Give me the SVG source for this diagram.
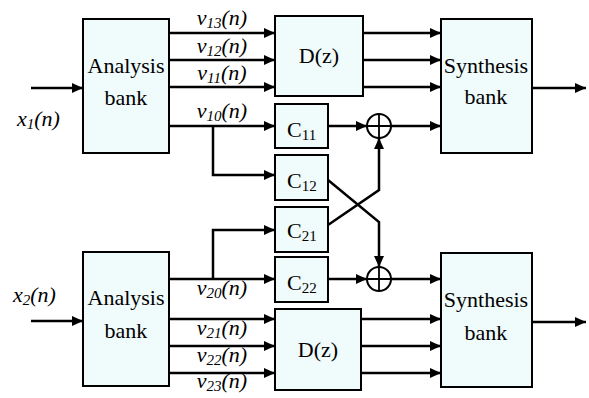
<svg xmlns="http://www.w3.org/2000/svg" width="589" height="398" viewBox="0 0 589 398">
<style>
.box{fill:#f0fbfb;stroke:#000;stroke-width:2}
.arr{fill:none;stroke:#000;stroke-width:2.5;marker-end:url(#ah)}
text{font-family:'Liberation Serif','Times New Roman','DejaVu Serif',serif;font-size:22px;fill:#000}
.i{font-style:italic}
.s{font-size:15px}
.m{text-anchor:middle}
</style>
<defs>
<marker id="ah" markerWidth="12" markerHeight="10" refX="11" refY="5" orient="auto" markerUnits="userSpaceOnUse">
<path d="M0,0 L11,5 L0,10 Z" fill="#000"/>
</marker>
</defs>
<rect width="589" height="398" fill="#fff"/>
<g font-family="Liberation Serif, Times New Roman, serif">
<g id="analysis1"><rect class="box" x="83" y="19" width="86" height="134"/><text class="m" x="126" y="73">Analysis</text><text class="m" x="126" y="105">bank</text></g>
<g id="analysis2"><rect class="box" x="83" y="252" width="86" height="134"/><text class="m" x="126" y="305">Analysis</text><text class="m" x="126" y="338">bank</text></g>
<g id="dz1"><rect class="box" x="275" y="16" width="88" height="80"/><text class="m" x="319" y="63">D(z)</text></g>
<g id="dz2"><rect class="box" x="275" y="309" width="86" height="81"/><text class="m" x="318" y="357">D(z)</text></g>
<g id="c11"><rect class="box" x="275" y="104" width="53" height="44"/><text x="287" y="137">C<tspan class="s" dy="3">11</tspan></text></g>
<g id="c12"><rect class="box" x="275" y="155" width="53" height="45"/><text x="287" y="188">C<tspan class="s" dy="3">12</tspan></text></g>
<g id="c21"><rect class="box" x="275" y="207" width="53" height="45"/><text x="287" y="238">C<tspan class="s" dy="3">21</tspan></text></g>
<g id="c22"><rect class="box" x="275" y="257" width="53" height="45"/><text x="287" y="290">C<tspan class="s" dy="3">22</tspan></text></g>
<g id="synth1"><rect class="box" x="441" y="19" width="91" height="134"/><text class="m" x="486" y="73">Synthesis</text><text class="m" x="486" y="104">bank</text></g>
<g id="synth2"><rect class="box" x="441" y="253" width="91" height="134"/><text class="m" x="486" y="307">Synthesis</text><text class="m" x="486" y="340">bank</text></g>
<g id="sum1"><circle cx="379" cy="126" r="12" fill="#fff" stroke="#000" stroke-width="2"/><path d="M367,126 H391 M379,114 V138" stroke="#000" stroke-width="1.8"/></g>
<g id="sum2"><circle cx="379" cy="279" r="12" fill="#fff" stroke="#000" stroke-width="2"/><path d="M367,279 H391 M379,267 V291" stroke="#000" stroke-width="1.8"/></g>
<g id="connectors">
<path class="arr" d="M31,88 H83"/>
<path class="arr" d="M31,321 H83"/>
<path class="arr" d="M169,33 H275"/>
<path class="arr" d="M169,60 H275"/>
<path class="arr" d="M169,87 H275"/>
<path class="arr" d="M169,126 H275"/>
<path class="arr" d="M213,126 V175 H275"/>
<path class="arr" d="M169,279 H275"/>
<path class="arr" d="M213,279 V230 H275"/>
<path class="arr" d="M169,319 H275"/>
<path class="arr" d="M169,346 H275"/>
<path class="arr" d="M169,373 H275"/>
<path class="arr" d="M363,33 H441"/>
<path class="arr" d="M363,60 H441"/>
<path class="arr" d="M363,87 H441"/>
<path class="arr" d="M328,126 H367"/>
<path class="arr" d="M391,126 H441"/>
<path class="arr" d="M328,279 H367"/>
<path class="arr" d="M391,279 H441"/>
<path class="arr" d="M361,319 H441"/>
<path class="arr" d="M361,346 H441"/>
<path class="arr" d="M361,373 H441"/>
<path class="arr" d="M532,88 H586"/>
<path class="arr" d="M532,322 H586"/>
<path class="arr" d="M328,180 L379,222 V267"/>
<path class="arr" d="M328,225 L379,190 V138"/>
</g>
<g id="labels">
<text class="i" x="17" y="126">x<tspan class="s" dy="3">1</tspan><tspan dy="-3">(n)</tspan></text>
<text class="i" x="13" y="302">x<tspan class="s" dy="3">2</tspan><tspan dy="-3">(n)</tspan></text>
<text class="i m" x="222" y="25">v<tspan class="s" dy="3">13</tspan><tspan dy="-3">(n)</tspan></text>
<text class="i m" x="222" y="53">v<tspan class="s" dy="3">12</tspan><tspan dy="-3">(n)</tspan></text>
<text class="i m" x="222" y="80">v<tspan class="s" dy="3">11</tspan><tspan dy="-3">(n)</tspan></text>
<text class="i m" x="222" y="118">v<tspan class="s" dy="3">10</tspan><tspan dy="-3">(n)</tspan></text>
<text class="i m" x="222" y="295">v<tspan class="s" dy="3">20</tspan><tspan dy="-3">(n)</tspan></text>
<text class="i m" x="222" y="335">v<tspan class="s" dy="3">21</tspan><tspan dy="-3">(n)</tspan></text>
<text class="i m" x="222" y="362">v<tspan class="s" dy="3">22</tspan><tspan dy="-3">(n)</tspan></text>
<text class="i m" x="222" y="388">v<tspan class="s" dy="3">23</tspan><tspan dy="-3">(n)</tspan></text>
</g>
</g>
</svg>
